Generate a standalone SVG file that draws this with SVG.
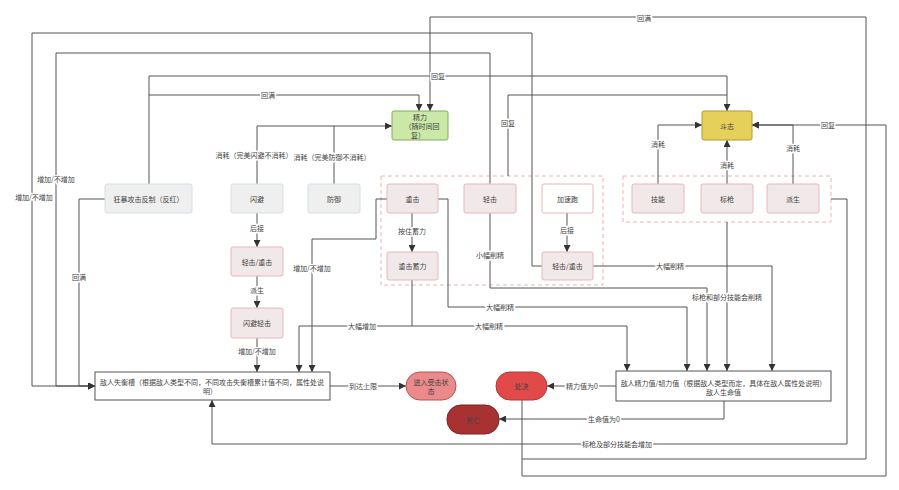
<svg xmlns="http://www.w3.org/2000/svg" width="899" height="490" viewBox="0 0 899 490">
<defs>
<marker id="ar" viewBox="0 0 8 8" refX="8" refY="4" markerWidth="7" markerHeight="7" markerUnits="userSpaceOnUse" orient="auto">
<path d="M0,0 L8,4 L0,8 z" fill="#333"/>
</marker>
<style>
text{font-family:"Noto Sans CJK SC","Noto Sans",sans-serif;font-size:7px;fill:#444;text-anchor:middle;dominant-baseline:central}
.e path{fill:none;stroke:#555;stroke-width:1}
.e .a{marker-end:url(#ar)}
.lb{stroke:#fff;stroke-width:3;paint-order:stroke;stroke-linejoin:round}
.g{fill:#efefef;stroke:#d3e0e6;stroke-width:1}
.p{fill:#f1e9e9;stroke:#e8b7b9;stroke-width:1}
.w{fill:#fff;stroke:#e8b7b9;stroke-width:1}
.box{fill:#fff;stroke:#555;stroke-width:1}
.grp{fill:none;stroke:#f0b0b2;stroke-width:1;stroke-dasharray:4 3}
</style>
</defs>
<rect width="899" height="490" fill="#fff"/>

<g id="groups">
<rect class="grp" x="381" y="176" width="222" height="109"/>
<rect class="grp" x="623" y="176" width="208" height="46"/>
</g>

<g class="e" id="connectors">
<path class="a" d="M522,400 V459 H866 V17 H430 V111"/>
<path class="a" d="M522,459 V476 H886 V125 H752"/>
<path class="a" d="M542,266 H532 V33 H32 V386 H95"/>
<path class="a" d="M490,184 V53 H56 V386 H95"/>
<path class="a" d="M105,199 H79 V386 H95"/>
<path class="a" d="M149,184 V76 H727 V111"/>
<path class="a" d="M149,95 H419 V111"/>
<path d="M508,176 V95 H727"/>
<path class="a" d="M257,184 V126 H392"/>
<path d="M334,184 V126"/>
<path class="a" d="M658,184 V125 H702"/>
<path class="a" d="M727,184 V140"/>
<path class="a" d="M793,184 V125 H752"/>
<path class="a" d="M257,213 V247"/>
<path class="a" d="M257,276 V308"/>
<path class="a" d="M257,338 V372"/>
<path class="a" d="M412,213 V252"/>
<path class="a" d="M567,213 V252"/>
<path class="a" d="M387,199 H376 V239 H312 V372"/>
<path class="a" d="M412,280 V326 H299 V372"/>
<path class="a" d="M412,326 H627 V371"/>
<path class="a" d="M438,199 H448 V307 H687 V371"/>
<path class="a" d="M490,213 V288 H707 V371"/>
<path class="a" d="M727,222 V371"/>
<path class="a" d="M593,266 H772 V371"/>
<path class="a" d="M330,386 H406"/>
<path class="a" d="M616,386 H547"/>
<path class="a" d="M724,401 V419 H499"/>
<path class="a" d="M831,199 H847 V444 H212 V400"/>
</g>

<g id="labels">
<text class="lb" x="644" y="18">回满</text>
<text class="lb" x="828" y="125">回复</text>
<text class="lb" x="34" y="197">增加/不增加</text>
<text class="lb" x="56" y="179">增加/不增加</text>
<text class="lb" x="79" y="277">回满</text>
<text class="lb" x="438" y="76">回复</text>
<text class="lb" x="268" y="95">回满</text>
<text class="lb" x="508" y="123">回复</text>
<text class="lb" x="254" y="155">消耗（完美闪避不消耗）</text>
<text class="lb" x="332" y="157">消耗（完美防御不消耗）</text>
<text class="lb" x="658" y="144">消耗</text>
<text class="lb" x="727" y="165">消耗</text>
<text class="lb" x="793" y="148">消耗</text>
<text class="lb" x="257" y="228">后接</text>
<text class="lb" x="257" y="290">派生</text>
<text class="lb" x="257" y="351">增加/不增加</text>
<text class="lb" x="412" y="231">按住蓄力</text>
<text class="lb" x="567" y="230">后接</text>
<text class="lb" x="312" y="268">增加/不增加</text>
<text class="lb" x="362" y="326">大幅增加</text>
<text class="lb" x="489" y="326">大幅削精</text>
<text class="lb" x="500" y="307">大幅削精</text>
<text class="lb" x="490" y="255">小幅削精</text>
<text class="lb" x="727" y="297">标枪和部分技能会削精</text>
<text class="lb" x="670" y="266">大幅削精</text>
<text class="lb" x="363" y="386">到达上限</text>
<text class="lb" x="582" y="386">精力值为0</text>
<text class="lb" x="604" y="419">生命值为0</text>
<text class="lb" x="617" y="444">标枪及部分技能会增加</text>
</g>

<g id="n-jingli"><rect x="392" y="111" width="56" height="29" rx="2" fill="#cce8a8" stroke="#7fae5a"/><text x="420" y="117">精力</text><text x="422" y="126">（随时间回</text><text x="418" y="135">复）</text></g>
<g id="n-douzhi"><rect x="702" y="111" width="50" height="29" rx="2" fill="#e6d05c" stroke="#b09a2a"/><text x="727" y="125.5">斗志</text></g>
<g id="n-kuangbao"><rect class="g" x="105" y="184" width="87" height="29" rx="2"/><text x="148.5" y="198.5">狂暴攻击反制（反红）</text></g>
<g id="n-shanbi"><rect class="g" x="231" y="184" width="52" height="29" rx="2"/><text x="257" y="198.5">闪避</text></g>
<g id="n-fangyu"><rect class="g" x="308" y="184" width="52" height="29" rx="2"/><text x="334" y="198.5">防御</text></g>
<g id="n-zhongji"><rect class="p" x="387" y="184" width="51" height="29" rx="2"/><text x="412.5" y="198.5">重击</text></g>
<g id="n-qingji"><rect class="p" x="464" y="184" width="52" height="29" rx="2"/><text x="490" y="198.5">轻击</text></g>
<g id="n-jiasupao"><rect class="w" x="542" y="184" width="51" height="29" rx="2"/><text x="567.5" y="198.5">加速跑</text></g>
<g id="n-xuli"><rect class="p" x="387" y="252" width="51" height="28" rx="2"/><text x="412.5" y="266">重击蓄力</text></g>
<g id="n-qz2"><rect class="p" x="542" y="252" width="51" height="28" rx="2"/><text x="567.5" y="266">轻击/重击</text></g>
<g id="n-jineng"><rect class="p" x="632" y="184" width="52" height="29" rx="2"/><text x="658" y="198.5">技能</text></g>
<g id="n-biaoqiang"><rect class="p" x="701" y="184" width="52" height="29" rx="2"/><text x="727" y="198.5">标枪</text></g>
<g id="n-paisheng"><rect class="p" x="767" y="184" width="52" height="29" rx="2"/><text x="793" y="198.5">派生</text></g>
<g id="n-qz1"><rect class="p" x="231" y="247" width="52" height="29" rx="2"/><text x="257" y="261.5">轻击/重击</text></g>
<g id="n-sbqj"><rect class="p" x="231" y="308" width="52" height="30" rx="2"/><text x="257" y="323">闪避轻击</text></g>
<g id="n-shiheng"><rect class="box" x="95" y="372" width="235" height="28"/><text x="212" y="382">敌人失衡槽（根据敌人类型不同，不同攻击失衡槽累计值不同，属性处说</text><text x="210" y="391">明）</text></g>
<g id="n-shouji"><rect x="406" y="372" width="50" height="28" rx="14" fill="#ea8a8a" stroke="#b85450"/><text x="431" y="382">进入受击状</text><text x="431" y="391">态</text></g>
<g id="n-chujue"><rect x="496" y="372" width="51" height="28" rx="14" fill="#e24a4a" stroke="#b33636"/><text x="521.5" y="386">处决</text></g>
<g id="n-siwang"><rect x="447" y="405" width="52" height="29" rx="14" fill="#a83232" stroke="#7c2222"/><text x="473" y="419.5">死亡</text></g>
<g id="n-jinglizhi"><rect class="box" x="616" y="371" width="215" height="30"/><text x="723.5" y="383">敌人精力值/韧力值（根据敌人类型而定，具体在敌人属性处说明）</text><text x="723.5" y="392">敌人生命值</text></g>
</svg>
